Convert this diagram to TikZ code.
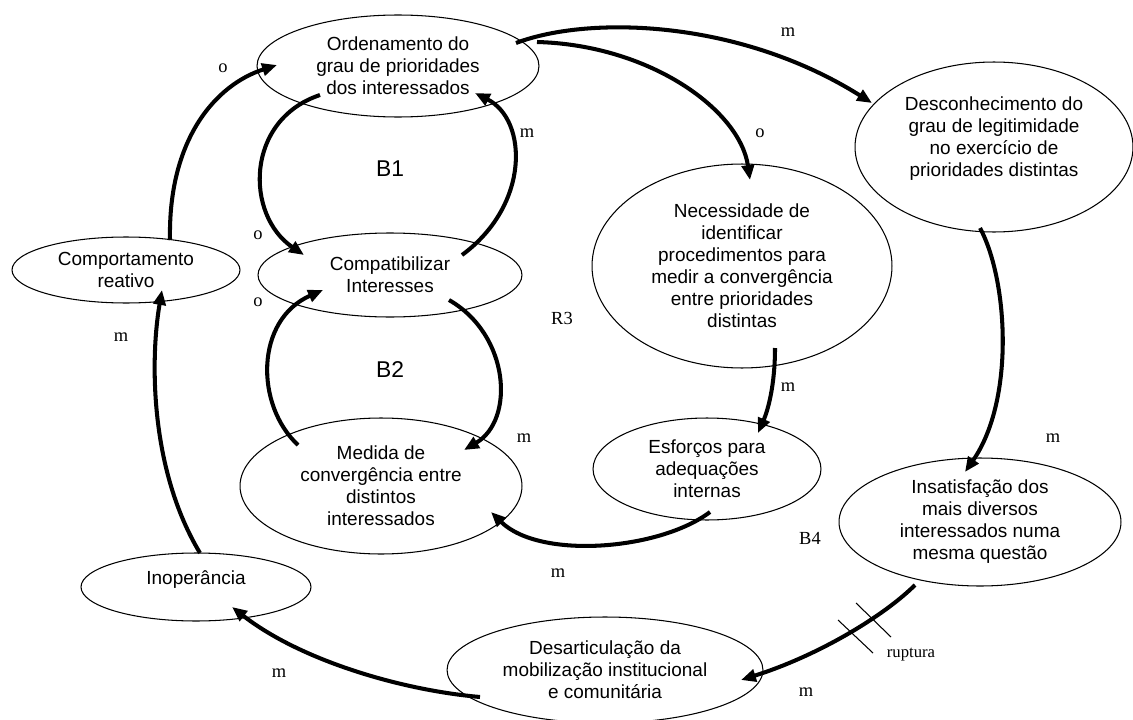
\documentclass[tikz,border=0pt]{standalone}
\usepackage{fontspec}
\setmainfont{Liberation Serif}
\setsansfont{Liberation Sans}
\usetikzlibrary{shapes.geometric,arrows.meta,calc}

\begin{document}
\begin{tikzpicture}[x=0.02cm, y=-0.02cm,
	ell/.style={draw, ellipse, line width=0.6pt, inner sep=0pt, align=center, font=\sffamily\fontsize{10.8}{12.5}\selectfont},
	txt/.style={align=center, inner sep=0pt, font=\sffamily\fontsize{10.8}{12.5}\selectfont},
	lbl/.style={inner sep=0pt, font=\fontsize{10.5}{12}\selectfont},
	loopname/.style={inner sep=0pt, font=\sffamily\fontsize{13}{15}\selectfont},
	arr/.style={line width=2.3pt, -{Triangle[length=8.5pt,width=7pt]}}]
	\useasboundingbox (0,0) rectangle (1133,720);
	
	% variaveis
	\node[ell, minimum width=5.64cm, minimum height=2.04cm] (ord) at (398,66) {Ordenamento do\\grau de prioridades\\dos interessados};
	\node[ell, minimum width=5.28cm, minimum height=1.68cm] (compat) at (390,275) {Compatibilizar\\Interesses};
	\node[ell, minimum width=4.56cm, minimum height=1.32cm] (comport) at (126,270) {Comportamento\\reativo};
	\node[ell, minimum width=5.56cm, minimum height=3.40cm] (desc) at (994,147) {};
	\node[txt] (desctxt) at (994,139) {Desconhecimento do\\grau de legitimidade\\no exercício de\\prioridades distintas};
	\node[ell, minimum width=6.00cm, minimum height=4.08cm] (neces) at (742,266) {Necessidade de\\identificar\\procedimentos para\\medir a convergência\\entre prioridades\\distintas};
	\node[ell, minimum width=5.64cm, minimum height=2.72cm] (medida) at (381,486) {Medida de\\convergência entre\\distintos\\interessados};
	\node[ell, minimum width=4.60cm, minimum height=1.36cm] (inop) at (196,587) {};
	\node[txt] (inoptxt) at (196,580) {Inoperância};
	\node[ell, minimum width=4.56cm, minimum height=2.04cm] (esf) at (707,469) {Esforços para\\adequações\\internas};
	\node[ell, minimum width=5.64cm, minimum height=2.56cm] (insat) at (980,522) {Insatisfação dos\\mais diversos\\interessados numa\\mesma questão};
	\node[ell, minimum width=6.32cm, minimum height=2.12cm] (desart) at (605,670) {Desarticulação da\\mobilização institucional\\e comunitária};
	
	% ligacoes
	\draw[arr] ($(comport)+(44,-30)$) .. controls (168,140) and (215,85) .. ($(ord)+(-121,-1)$);
	\draw[arr] ($(ord)+(-78,29)$) .. controls (245,120) and (245,215) .. ($(compat)+(-86,-20)$);
	\draw[arr] ($(compat)+(72,-20)$) .. controls (530,205) and (528,120) .. ($(ord)+(77,27)$);
	\draw[arr] ($(medida)+(-83,-41)$) .. controls (255,405) and (255,320) .. ($(compat)+(-67,15)$);
	\draw[arr] ($(compat)+(59,25)$) .. controls (510,335) and (515,420) .. ($(medida)+(83,-36)$);
	\draw[arr] ($(inop)+(4,-34)$) .. controls (150,470) and (150,360) .. ($(comport)+(36,20)$);
	\draw[arr] ($(ord)+(118,-23)$) .. controls (590,15) and (740,20) .. ($(desc)+(-122,-44)$);
	\draw[arr] ($(ord)+(139,-24)$) .. controls (650,45) and (740,110) .. ($(neces)+(8,-86)$);
	\draw[arr] ($(neces)+(33,82)$) .. controls (775,385) and (768,410) .. ($(esf)+(51,-36)$);
	\draw[arr] ($(desc)+(-14,81)$) .. controls (1008,280) and (1015,400) .. ($(insat)+(-15,-50)$);
	\draw[arr] ($(esf)+(3,43)$) .. controls (660,550) and (540,560) .. ($(medida)+(110,26)$);
	\draw[arr] ($(insat)+(-65,63)$) .. controls (885,615) and (820,655) .. ($(desart)+(136,10)$);
	\draw[arr] ($(desart)+(-125,27)$) .. controls (400,690) and (300,660) .. ($(inop)+(36,20)$);
	
	% ruptura
	\draw[line width=0.6pt] (838,620) -- (873,653);
	\draw[line width=0.6pt] (856,603) -- (891,637);
	
	% polaridades e lacos
	\node[lbl] (o1) at (223,68) {o};
	\node[lbl] (m1) at (527,133) {m};
	\node[loopname] (b1) at (390,169) {B1};
	\node[lbl] (o2) at (258,235) {o};
	\node[lbl] (o3) at (258,302) {o};
	\node[lbl] (m2) at (121,337) {m};
	\node[lbl] (r3) at (562,318) {R3};
	\node[loopname] (b2) at (390,370) {B2};
	\node[lbl] (m3) at (524,438) {m};
	\node[lbl] (m4) at (788,387) {m};
	\node[lbl] (m5) at (1053,438) {m};
	\node[lbl] (b4) at (810,538) {B4};
	\node[lbl] (m6) at (558,573) {m};
	\node[lbl] (m7) at (279,673) {m};
	\node[lbl] (m8) at (806,692) {m};
	\node[lbl, font=\fontsize{9.5}{11}\selectfont] (rup) at (911,655) {ruptura};
	\node[lbl] (m9) at (788,32) {m};
	\node[lbl] (o4) at (760,133) {o};
\end{tikzpicture}
\end{document}
